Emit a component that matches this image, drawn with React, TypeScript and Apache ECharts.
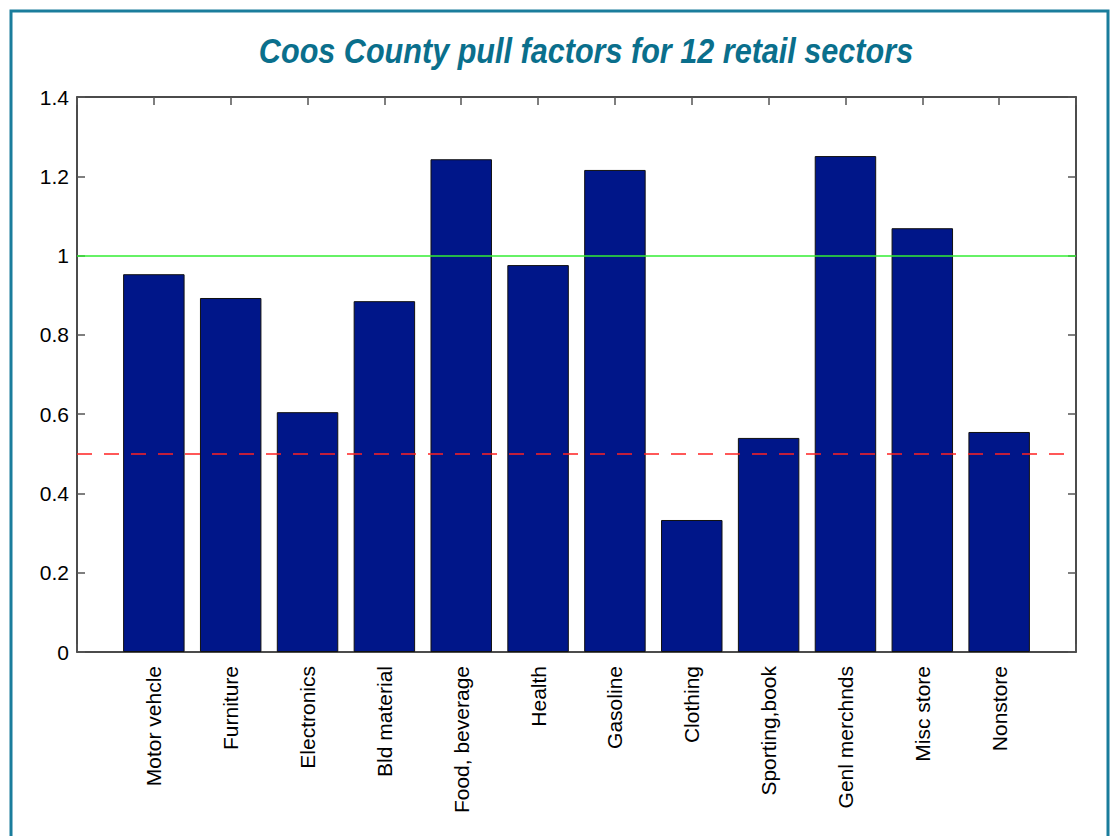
import React, { useEffect, useRef } from "react";
import * as echarts from "echarts";

const categories = [
  "Motor vehcle",
  "Furniture",
  "Electronics",
  "Bld material",
  "Food, beverage",
  "Health",
  "Gasoline",
  "Clothing",
  "Sporting,book",
  "Genl merchnds",
  "Misc store",
  "Nonstore",
];
const pullFactors = [0.953, 0.893, 0.605, 0.885, 1.243, 0.976, 1.216, 0.333, 0.54, 1.251, 1.069, 0.555];
const referenceLines = [1, 0.5];
const titleText = "Coos County pull factors for 12 retail sectors";

export default function App() {
  const ref = useRef<HTMLDivElement>(null);
  useEffect(() => {
    if (!ref.current) return;
    const chart = echarts.init(ref.current, null, { renderer: "svg" });
    const positions = categories.map((_, i) => i + 1);
    const tickColor = "#555";
    const font = "'Liberation Sans', Arial, Helvetica, sans-serif";
    const axisLine = { show: true, onZero: false, lineStyle: { color: "#111", width: 1.5 } };
    const axisTick = { show: true, inside: true, length: 8, lineStyle: { color: tickColor, width: 1.5 } };
    chart.setOption({
      animation: false,
      backgroundColor: "#ffffff",
      graphic: [
        {
          type: "text",
          x: 586,
          y: 51,
          scaleX: 0.85,
          style: {
            text: titleText,
            fill: "#0a6f8c",
            font: "italic bold 36px 'Liberation Sans', Arial, sans-serif",
            align: "center",
            verticalAlign: "middle",
          },
          silent: true,
        },
        {
          type: "rect",
          shape: { x: 11, y: 11, width: 1097, height: 840 },
          style: { fill: "none", stroke: "#1a7d9c", lineWidth: 3 },
          silent: true,
          z: 100,
        },
      ],
      grid: { left: 77, top: 97, right: 38, bottom: 184 },
      xAxis: [
        {
          type: "value",
          min: 0,
          max: categories.length + 1,
          interval: 1,
          splitLine: { show: false },
          axisLine,
          axisTick,
          axisLabel: {
            rotate: 90,
            color: "#000",
            fontSize: 21,
            fontFamily: font,
            margin: 14,
            formatter: (v: number) => categories[v - 1] ?? "",
          },
        },
        {
          type: "value",
          position: "top",
          min: 0,
          max: categories.length + 1,
          interval: 1,
          splitLine: { show: false },
          axisLine,
          axisTick,
          axisLabel: { show: false },
        },
      ],
      yAxis: [
        {
          type: "value",
          min: 0,
          max: 1.4,
          interval: 0.2,
          splitLine: { show: false },
          axisLine,
          axisTick,
          axisLabel: {
            color: "#000",
            fontSize: 21,
            fontFamily: font,
            margin: 8,
            formatter: (v: number) => String(Math.round(v * 10) / 10),
          },
        },
        {
          type: "value",
          position: "right",
          min: 0,
          max: 1.4,
          interval: 0.2,
          splitLine: { show: false },
          axisLine,
          axisTick,
          axisLabel: { show: false },
        },
      ],
      series: [
        {
          type: "bar",
          xAxisIndex: 0,
          yAxisIndex: 0,
          barWidth: "80%",
          data: positions.map((p, i) => [p, pullFactors[i]]),
          itemStyle: { color: "#001689", borderColor: "#111", borderWidth: 1 },
          markLine: {
            silent: true,
            symbol: "none",
            label: { show: false },
            data: [
              { yAxis: referenceLines[0], lineStyle: { color: "#33ee33", type: "solid", width: 1.5 } },
              { yAxis: referenceLines[1], lineStyle: { color: "#ff2222", type: [15, 12], width: 1.5, opacity: 1 } },
            ],
          },
        },
      ],
    });
    return () => chart.dispose();
  }, []);
  return (
    <div
      ref={ref}
      style={{ position: "fixed", left: 0, top: 0, width: 1114, height: 836 }}
    />
  );
}
